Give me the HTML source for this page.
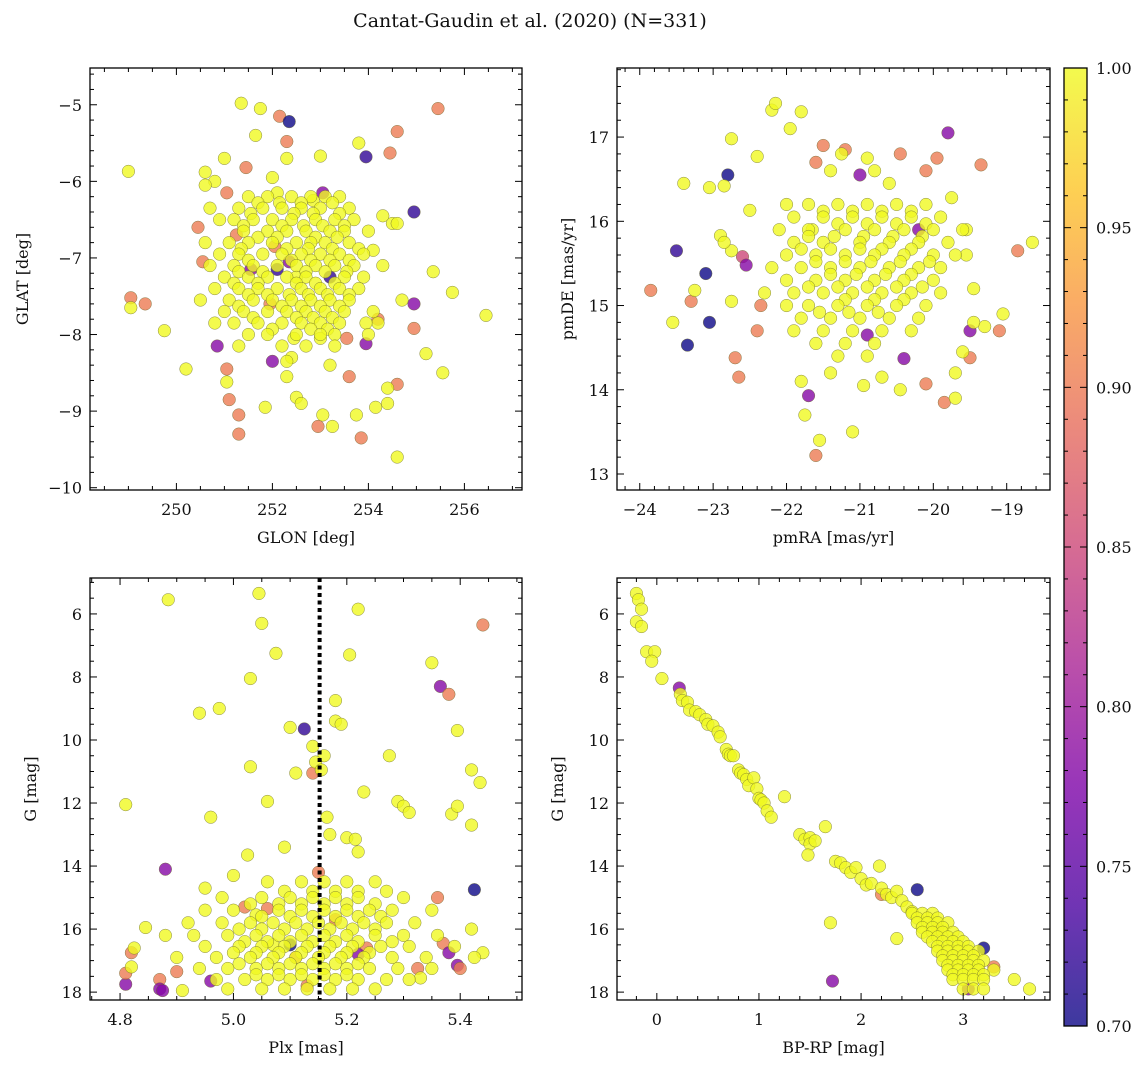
<!DOCTYPE html>
<html><head><meta charset="utf-8"><style>
html,body{margin:0;padding:0;background:#fff;}
svg text{font-family:"DejaVu Serif","Liberation Serif",serif;fill:#111;}
</style></head><body>
<svg id="fig" width="1148" height="1067" viewBox="0 0 1148 1067" xmlns="http://www.w3.org/2000/svg">
<defs>
<linearGradient id="plasma" x1="0" y1="1" x2="0" y2="0">
<stop offset="0" stop-color="#0d0887"/><stop offset="0.125" stop-color="#4c02a1"/><stop offset="0.25" stop-color="#7e03a8"/><stop offset="0.375" stop-color="#a92395"/><stop offset="0.5" stop-color="#cc4778"/><stop offset="0.625" stop-color="#e66c5c"/><stop offset="0.75" stop-color="#f89540"/><stop offset="0.875" stop-color="#fdc527"/><stop offset="1" stop-color="#f0f921"/>
</linearGradient>
</defs>
<text x="530" y="27" font-size="19" text-anchor="middle">Cantat-Gaudin et al. (2020) (N=331)</text>
</svg>
<script>
// ---- data: [x, y, membership probability] ----
const skyPts = [[249.0,-5.87,1],[249.05,-7.52,0.9],[249.05,-7.65,1],[249.35,-7.6,0.9],[249.75,-7.95,1],[250.2,-8.45,1],[250.85,-8.15,0.78],[251.35,-4.98,1],[251.75,-5.05,1],[252.15,-5.15,0.9],[252.35,-5.22,0.7],[252.3,-5.48,0.9],[253.8,-5.5,1],[253.95,-5.68,0.72],[254.45,-5.63,0.9],[254.6,-5.35,0.9],[255.45,-5.05,0.9],[254.95,-6.4,0.72],[253.0,-5.67,1],[251.45,-5.82,0.9],[251.65,-5.4,1],[252.3,-5.7,1],[255.35,-7.18,1],[255.75,-7.45,1],[256.45,-7.75,1],[255.55,-8.5,1],[255.2,-8.25,1],[254.95,-7.6,0.78],[254.95,-7.92,0.9],[254.6,-8.65,0.9],[254.4,-8.7,1],[254.4,-8.9,1],[254.15,-8.95,1],[254.6,-9.6,1],[253.85,-9.35,0.9],[253.75,-9.05,1],[253.25,-9.2,1],[253.05,-9.05,1],[252.95,-9.2,0.9],[252.5,-8.82,1],[252.6,-8.9,1],[251.85,-8.95,1],[251.3,-9.3,0.9],[251.3,-9.05,0.9],[251.1,-8.85,0.9],[251.05,-8.62,1],[251.05,-8.45,0.9],[253.6,-8.55,0.9],[253.95,-8.12,0.78],[252.0,-8.35,0.78],[253.05,-6.15,0.78],[252.3,-8.55,1],[254.5,-6.55,1],[254.6,-6.55,1],[254.3,-6.45,1],[254.1,-6.9,1],[254.2,-7.8,0.9],[254.2,-7.85,1],[253.95,-7.85,1],[253.55,-8.05,0.9],[253.0,-8.05,1],[253.2,-8.4,1],[252.4,-8.3,1],[250.45,-6.6,0.9],[250.55,-7.05,0.9],[251.05,-6.15,0.9],[251.25,-6.7,0.9],[251.55,-7.15,0.78],[250.8,-6.0,1],[250.6,-6.05,1],[250.6,-5.88,1],[251.0,-5.7,1],[252.0,-5.95,1],[252.1,-6.15,1],[252.85,-6.25,1],[253.2,-7.25,0.72],[252.5,-7.25,1],[251.95,-7.6,0.9],[252.45,-8.05,1],[252.3,-8.35,1],[252.35,-7.05,0.78],[252.1,-7.15,0.72],[252.05,-6.85,0.9]];
const skyCore = [[-6.2,[251.9,252.4,252.8,253.1,253.4,251.5]],[-6.28,[252.15,252.6,253.25,251.7]],[-6.35,[251.3,251.8,252.2,252.6,253.0,253.6,250.7]],[-6.42,[251.55,252.45,252.85,253.4]],[-6.5,[251.2,251.6,252.0,252.4,252.9,253.3,253.7,250.9]],[-6.58,[251.4,252.2,252.65,253.05,253.5]],[-6.65,[251.4,251.9,252.3,252.7,253.2,253.5,254.0]],[-6.73,[251.7,252.1,252.9,253.35]],[-6.8,[251.1,251.5,252.0,252.5,252.8,253.1,253.6,250.6]],[-6.88,[251.35,252.3,252.75,253.25,253.8]],[-6.95,[251.3,251.8,252.2,252.6,253.0,253.4,253.9,250.9]],[-7.03,[251.5,252.4,252.8,253.2,253.6]],[-7.1,[250.7,251.2,251.6,252.1,252.5,252.9,253.3,253.7,254.3]],[-7.18,[251.3,251.8,252.7,253.1,253.55]],[-7.25,[251.0,251.5,251.9,252.3,252.7,253.5,253.9]],[-7.33,[251.2,251.7,252.5,252.9,253.3]],[-7.4,[250.8,251.3,251.7,252.1,252.6,253.0,253.4,253.8]],[-7.48,[251.5,251.9,252.35,252.75,253.15,253.6]],[-7.55,[250.5,251.1,251.6,252.0,252.4,252.8,253.2,253.6,254.7]],[-7.63,[251.3,252.2,252.6,253.0,253.4]],[-7.7,[251.0,251.4,251.9,252.3,252.7,253.1,253.5,254.1]],[-7.78,[251.6,252.5,252.85,253.25]],[-7.85,[250.8,251.2,251.7,252.2,252.6,253.0,253.4]],[-7.93,[252.0,252.8,253.15]],[-8.0,[251.5,251.9,252.5,253.0,253.3,254.0]],[-8.15,[251.3,252.2,252.7,253.3]]];
const pmPts = [[-23.85,15.18,0.9],[-23.55,14.8,1],[-23.5,15.65,0.72],[-23.35,14.53,0.7],[-23.3,15.05,0.9],[-23.25,15.18,1],[-23.1,15.38,0.7],[-23.05,14.8,0.7],[-23.4,16.45,1],[-23.05,16.4,1],[-22.85,16.42,1],[-22.8,16.55,0.7],[-22.75,16.98,1],[-22.9,15.83,1],[-22.75,15.65,1],[-22.85,15.75,1],[-22.7,14.38,0.9],[-22.65,14.15,0.9],[-22.75,15.05,1],[-22.6,15.58,0.85],[-22.55,15.48,0.78],[-22.4,14.7,0.9],[-22.35,15.0,0.9],[-22.5,16.13,1],[-22.4,16.77,1],[-22.2,17.32,1],[-22.15,17.4,1],[-21.95,17.1,1],[-21.8,17.3,1],[-21.6,16.7,0.9],[-21.65,15.9,1],[-21.5,16.9,0.9],[-21.4,16.6,1],[-21.55,13.4,1],[-21.6,13.22,0.9],[-21.75,13.7,1],[-21.8,14.1,1],[-21.7,13.93,0.78],[-21.4,14.2,1],[-21.1,13.5,1],[-20.95,14.05,1],[-20.7,14.15,1],[-20.45,14.0,1],[-20.4,14.37,0.78],[-20.1,14.07,0.9],[-19.85,13.85,0.9],[-19.7,13.9,1],[-19.7,14.2,1],[-19.6,14.45,1],[-19.5,14.38,0.9],[-19.3,14.75,1],[-19.05,14.9,1],[-19.1,14.7,0.9],[-18.85,15.65,0.9],[-18.65,15.75,1],[-19.35,16.67,0.9],[-19.75,16.28,1],[-19.8,17.05,0.78],[-19.95,16.75,0.9],[-20.1,16.6,0.9],[-20.45,16.8,0.9],[-20.6,16.45,1],[-20.8,16.6,1],[-20.9,16.75,1],[-21.2,16.85,0.9],[-21.25,16.8,1],[-19.45,15.2,1],[-19.45,14.8,1],[-19.5,14.7,0.78],[-19.55,15.9,1],[-19.55,15.6,1],[-20.9,14.65,0.78],[-21.0,16.55,0.78],[-20.2,15.9,0.78]];
const pmCore = [[16.2,[-21.7,-21.3,-20.9,-20.5,-20.1,-22.0]],[16.12,[-21.5,-21.1,-20.7,-20.3]],[16.05,[-21.9,-21.5,-21.1,-20.7,-20.3,-19.9]],[15.97,[-21.3,-20.9,-20.5,-20.1]],[15.9,[-22.1,-21.7,-21.2,-20.8,-20.4,-20.0,-19.6]],[15.82,[-21.7,-21.35,-20.95,-20.55,-20.15]],[15.75,[-21.9,-21.5,-21.0,-20.6,-20.2,-19.8]],[15.67,[-21.8,-21.4,-21.0,-20.7,-20.3]],[15.6,[-22.0,-21.6,-21.2,-20.8,-20.4,-20.0,-19.7]],[15.52,[-21.6,-21.2,-20.85,-20.45,-20.05]],[15.45,[-22.2,-21.8,-21.4,-21.0,-20.6,-20.2,-19.9]],[15.37,[-21.4,-21.05,-20.65,-20.3]],[15.3,[-22.0,-21.6,-21.2,-20.8,-20.4,-20.0]],[15.22,[-21.7,-21.3,-20.9,-20.5,-20.15]],[15.15,[-22.3,-21.9,-21.5,-21.1,-20.7,-20.3,-19.9]],[15.07,[-21.2,-20.8,-20.4]],[15.0,[-22.0,-21.7,-21.3,-20.9,-20.5,-20.1]],[14.92,[-21.55,-21.15,-20.75]],[14.85,[-21.8,-21.4,-21.0,-20.6,-20.2]],[14.7,[-21.9,-21.5,-21.1,-20.7,-20.3]],[14.55,[-21.6,-21.2,-20.8]],[14.4,[-21.3,-20.9]]];
const plxPts = [[4.885,5.55,1],[5.045,5.35,1],[5.05,6.3,1],[5.075,7.25,1],[5.22,5.85,1],[5.44,6.35,0.9],[5.35,7.55,1],[5.205,7.3,1],[5.03,8.05,1],[5.365,8.3,0.78],[5.38,8.55,0.9],[5.18,8.75,1],[4.94,9.15,1],[4.975,9.0,1],[5.18,9.4,1],[5.19,9.5,1],[5.1,9.6,1],[5.125,9.65,0.72],[5.395,9.7,1],[5.275,10.5,1],[5.14,10.2,1],[5.16,10.5,1],[5.145,10.7,1],[5.155,10.95,1],[5.11,11.05,1],[5.14,11.05,0.9],[5.03,10.85,1],[5.23,11.65,1],[5.29,11.95,1],[5.3,12.1,1],[5.31,12.3,1],[5.385,12.35,1],[5.395,12.1,1],[5.42,10.95,1],[5.435,11.35,1],[5.42,12.7,1],[4.81,12.05,1],[4.96,12.45,1],[5.06,11.95,1],[5.2,13.1,1],[5.215,13.15,1],[5.22,13.55,1],[5.165,12.45,1],[5.17,13.0,1],[5.09,13.4,1],[5.025,13.65,1],[4.88,14.1,0.78],[5.0,14.3,1],[4.95,14.7,1],[5.425,14.75,0.7],[5.27,14.8,1],[4.81,17.75,0.78],[4.81,17.4,0.9],[4.82,16.75,0.9],[4.825,16.6,1],[4.845,15.95,1],[4.82,17.2,1],[4.87,17.6,0.9],[4.87,17.9,0.78],[4.875,17.95,0.78],[4.9,17.35,0.9],[4.91,17.95,1],[4.88,16.2,1],[4.96,17.65,0.78],[5.42,16.0,1],[5.44,16.75,1],[5.395,17.15,0.78],[5.4,17.25,0.9],[5.37,16.45,0.9],[5.425,16.9,1],[5.325,17.25,0.9],[5.33,17.55,1],[5.36,15.0,0.9],[5.1,16.5,0.7],[5.07,16.5,1],[5.235,16.6,0.9],[5.02,15.3,0.9],[5.04,15.55,1],[5.15,14.2,0.9],[5.18,15.7,0.9],[5.11,16.9,0.9],[5.22,16.8,0.78],[5.38,16.75,0.78],[5.06,15.35,0.9],[5.13,17.8,0.9]];
const plxCore = [[14.5,[5.06,5.12,5.16,5.2,5.25]],[14.8,[5.09,5.14,5.18,5.22]],[15.0,[4.98,5.05,5.1,5.14,5.18,5.22,5.3]],[15.2,[5.03,5.08,5.12,5.16,5.2,5.25]],[15.4,[4.95,5.0,5.08,5.12,5.16,5.2,5.24,5.28,5.35]],[15.6,[5.05,5.1,5.14,5.18,5.22,5.26]],[15.8,[4.92,4.98,5.03,5.07,5.11,5.15,5.19,5.23,5.27,5.32]],[16.0,[5.01,5.05,5.09,5.13,5.17,5.21,5.25]],[16.2,[4.93,4.99,5.04,5.08,5.12,5.16,5.2,5.25,5.3,5.36]],[16.4,[5.02,5.06,5.1,5.14,5.18,5.22,5.28]],[16.55,[4.95,5.01,5.05,5.09,5.13,5.17,5.21,5.26,5.31,5.39]],[16.75,[5.0,5.04,5.08,5.12,5.16,5.2,5.24]],[16.9,[4.9,4.97,5.03,5.07,5.11,5.15,5.19,5.23,5.28,5.34]],[17.1,[5.01,5.06,5.1,5.14,5.18,5.22]],[17.25,[4.94,4.99,5.04,5.08,5.12,5.16,5.2,5.24,5.29,5.35]],[17.45,[5.04,5.08,5.12,5.16,5.2]],[17.6,[4.97,5.02,5.06,5.1,5.14,5.18,5.22,5.27,5.31]],[17.9,[4.99,5.05,5.09,5.13,5.17,5.21,5.25]]];
const plxMean = 5.152;
const cmdPts = [[-0.2,5.35,1],[-0.18,5.55,1],[-0.15,5.85,1],[-0.2,6.25,1],[-0.15,6.4,1],[-0.1,7.2,1],[-0.02,7.2,1],[-0.05,7.5,1],[0.05,8.05,1],[0.22,8.35,0.78],[0.23,8.55,1],[0.25,8.75,1],[0.3,8.8,1],[0.32,9.05,1],[0.38,9.1,1],[0.42,9.2,1],[0.48,9.35,1],[0.5,9.5,1],[0.55,9.55,1],[0.6,9.75,1],[0.62,9.9,1],[0.68,10.3,1],[0.7,10.45,1],[0.72,10.5,1],[0.75,10.5,1],[0.8,10.95,1],[0.82,11.05,1],[0.85,11.1,1],[0.88,11.25,1],[0.9,11.45,1],[0.95,11.2,1],[0.98,11.55,1],[1.0,11.85,1],[1.02,11.9,1],[1.05,12.0,1],[1.08,12.25,1],[1.12,12.45,1],[1.25,11.8,1],[1.4,13.0,1],[1.45,13.15,1],[1.5,13.1,1],[1.5,13.3,1],[1.48,13.65,1],[1.55,13.2,1],[1.65,12.75,1],[1.75,13.85,1],[1.8,13.9,1],[1.85,14.05,1],[1.9,14.2,1],[1.95,14.05,1],[2.0,14.4,1],[1.7,15.8,1],[2.05,14.6,1],[2.1,14.55,1],[2.18,14.0,1],[2.2,14.7,1],[2.25,14.9,1],[2.3,15.0,1],[2.35,14.8,1],[2.4,15.1,1],[2.45,15.3,1],[2.5,15.45,1],[2.35,16.3,1],[2.55,14.75,0.7],[1.72,17.65,0.78],[2.75,16.0,0.9],[3.2,16.6,0.7],[3.05,17.9,0.78],[2.2,14.9,0.9],[3.3,17.2,0.9]];
const cmdCore = [[15.5,[2.5,2.6,2.7]],[15.65,[2.55,2.65,2.75]],[15.8,[2.55,2.65,2.75,2.85]],[15.95,[2.6,2.7,2.8]],[16.1,[2.6,2.7,2.8,2.9]],[16.25,[2.65,2.75,2.85,2.95]],[16.4,[2.7,2.8,2.9,3.0]],[16.55,[2.75,2.85,2.95,3.05]],[16.7,[2.75,2.85,2.95,3.05,3.15]],[16.85,[2.8,2.9,3.0,3.1]],[17.0,[2.8,2.9,3.0,3.1,3.2]],[17.15,[2.85,2.95,3.05,3.15]],[17.3,[2.85,2.95,3.05,3.15,3.3]],[17.45,[2.9,3.0,3.1,3.2]],[17.6,[2.9,3.0,3.1,3.2,3.5]],[17.9,[3.0,3.1,3.2,3.65]]];
const cbarTicks = [0.70,0.75,0.80,0.85,0.90,0.95,1.00];

// ---- rendering ----
const NS='http://www.w3.org/2000/svg';
const svg=document.getElementById('fig');
function mk(tag,attrs,parent){const e=document.createElementNS(NS,tag);for(const k in attrs)e.setAttribute(k,attrs[k]);(parent||svg).appendChild(e);return e;}
const stops=[[0,[13,8,135]],[0.125,[76,2,161]],[0.25,[126,3,168]],[0.375,[169,35,149]],[0.5,[204,71,120]],[0.625,[230,108,92]],[0.75,[248,149,64]],[0.875,[253,197,39]],[1,[240,249,33]]];
function plasma(p){let t=(p-0.7)/0.3;t=Math.max(0,Math.min(1,t));for(let i=1;i<stops.length;i++){if(t<=stops[i][0]){const a=stops[i-1],b=stops[i];const f=(t-a[0])/(b[0]-a[0]);const c=a[1].map((v,j)=>Math.round(v+(b[1][j]-v)*f));return `rgb(${c[0]},${c[1]},${c[2]})`;}}return 'rgb(240,249,33)';}
function expand(pts,core){const out=pts.slice();core.forEach(r=>r[1].forEach(x=>out.push([x,r[0],1])));return out;}

function panel(o){
  const g=mk('g',{});
  
  
  const sx=v=>o.x0+(v-o.xmin)/(o.xmax-o.xmin)*(o.x1-o.x0);
  const sy=v=>o.y1-(v-o.ymin)/(o.ymax-o.ymin)*(o.y1-o.y0);
  const clip='c'+o.name;
  const cp=mk('clipPath',{id:clip},g);mk('rect',{x:o.x0,y:o.y0,width:o.x1-o.x0,height:o.y1-o.y0},cp);
  const pg=mk('g',{'clip-path':`url(#${clip})`},g);
  
  
  const pts=expand(o.pts,o.core);
  const ordered=pts.filter(p=>p[2]<1).concat(pts.filter(p=>p[2]>=1));
  ordered.forEach(p=>{const c=mk('circle',{cx:sx(p[0]),cy:sy(p[1]),r:6.3,fill:plasma(p[2]),'fill-opacity':0.8,stroke:'#6b6b30','stroke-width':0.5,'stroke-opacity':0.8},pg);
    
    });
  if(o.vline!==undefined){const l=mk('line',{x1:sx(o.vline),x2:sx(o.vline),y1:o.y0,y2:o.y1,stroke:'#000','stroke-width':4,'stroke-dasharray':'4,3.5'},g);
    
    }
  const fr=mk('rect',{x:o.x0,y:o.y0,width:o.x1-o.x0,height:o.y1-o.y0,fill:'none',stroke:'#000','stroke-width':1.3},g);
  
  
  const tk=mk('g',{stroke:'#000','stroke-width':1},g);
  const eps=1e-9;
  for(let v=Math.ceil(o.xmin/o.xminor)*o.xminor;v<=o.xmax+eps;v+=o.xminor){const X=sx(v);const maj=Math.abs(v/o.xmajor-Math.round(v/o.xmajor))<1e-6;const L=maj?7:4;
    mk('line',{x1:X,x2:X,y1:o.y1,y2:o.y1-L},tk);mk('line',{x1:X,x2:X,y1:o.y0,y2:o.y0+L},tk);
    if(maj){const t=mk('text',{x:X,y:o.y1+25,'font-size':16,'text-anchor':'middle',stroke:'none'},g);t.textContent=o.xfmt(Math.round(v/o.xmajor)*o.xmajor).replace('-','\u2212');
      
      }}
  for(let v=Math.ceil(o.ymin/o.yminor)*o.yminor;v<=o.ymax+eps;v+=o.yminor){const Y=sy(v);const maj=Math.abs(v/o.ymajor-Math.round(v/o.ymajor))<1e-6;const L=maj?7:4;
    mk('line',{x1:o.x0,x2:o.x0+L,y1:Y,y2:Y},tk);mk('line',{x1:o.x1,x2:o.x1-L,y1:Y,y2:Y},tk);
    if(maj){const n=Math.round(v/o.ymajor)*o.ymajor;const t=mk('text',{x:o.x0-8,y:Y+6,'font-size':16,'text-anchor':'end',stroke:'none'},g);t.textContent=String(o.yflip?-n:n).replace('-','\u2212');
      
      }}
  const xl=mk('text',{x:(o.x0+o.x1)/2,y:o.y1+53,'font-size':16,'text-anchor':'middle'},g);xl.textContent=o.xlabel;
  
  
  const yx=o.x0-o.ylabOff, yc=(o.y0+o.y1)/2;
  const yl=mk('text',{x:yx,y:yc,'font-size':16,'text-anchor':'middle',transform:`rotate(-90 ${yx} ${yc})`},g);yl.textContent=o.ylabel;
  
  
}
const f0=v=>String(v), f1=v=>v.toFixed(1);
panel({name:'sky-panel',x0:90,x1:522,y0:68,y1:490,xmin:248.2,xmax:257.2,ymin:-10.03,ymax:-4.52,xmajor:2,xminor:0.5,ymajor:1,yminor:0.2,xfmt:f0,xlabel:'GLON [deg]',ylabel:'GLAT [deg]',ylabOff:62,pts:skyPts,core:skyCore});
panel({name:'pm-panel',x0:617,x1:1050,y0:68,y1:490,xmin:-24.31,xmax:-18.41,ymin:12.81,ymax:17.82,xmajor:1,xminor:0.2,ymajor:1,yminor:0.2,xfmt:f0,xlabel:'pmRA [mas/yr]',ylabel:'pmDE [mas/yr]',ylabOff:44,pts:pmPts,core:pmCore});
panel({name:'plx-panel',x0:90,x1:522,y0:578,y1:1000,xmin:4.747,xmax:5.509,ymin:-18.25,ymax:-4.86,xmajor:0.2,xminor:0.05,ymajor:2,yminor:0.5,yflip:true,xfmt:f1,xlabel:'Plx [mas]',ylabel:'G [mag]',ylabOff:54,pts:plxPts.map(p=>[p[0],-p[1],p[2]]),core:plxCore.map(r=>[-r[0],r[1]]),vline:plxMean});
panel({name:'cmd-panel',x0:617,x1:1050,y0:578,y1:1000,xmin:-0.39,xmax:3.85,ymin:-18.25,ymax:-4.86,xmajor:1,xminor:0.2,ymajor:2,yminor:0.5,yflip:true,xfmt:f0,xlabel:'BP-RP [mag]',ylabel:'G [mag]',ylabOff:54,pts:cmdPts.map(p=>[p[0],-p[1],p[2]]),core:cmdCore.map(r=>[-r[0],r[1]])});

// colorbar
const cb=mk('g',{});


const cx0=1064,cx1=1087,cy0=68,cy1=1026;
mk('rect',{x:cx0,y:cy0,width:cx1-cx0,height:cy1-cy0,fill:'url(#plasma)','fill-opacity':0.8},cb);
mk('rect',{x:cx0,y:cy0,width:cx1-cx0,height:cy1-cy0,fill:'none',stroke:'#000','stroke-width':1.3},cb);
const cs=v=>cy1-(v-0.7)/0.3*(cy1-cy0);
for(let i=70;i<=100;i++){const Y=cs(i/100);const maj=i%5===0;mk('line',{x1:cx1,x2:cx1-(maj?7:4),y1:Y,y2:Y,stroke:'#000'},cb);mk('line',{x1:cx0,x2:cx0+(maj?7:4),y1:Y,y2:Y,stroke:'#000'},cb);}
cbarTicks.forEach(v=>{const t=mk('text',{x:cx1+9,y:cs(v)+6,'font-size':16},cb);t.textContent=v.toFixed(2);
  
  });
</script>
</body></html>
